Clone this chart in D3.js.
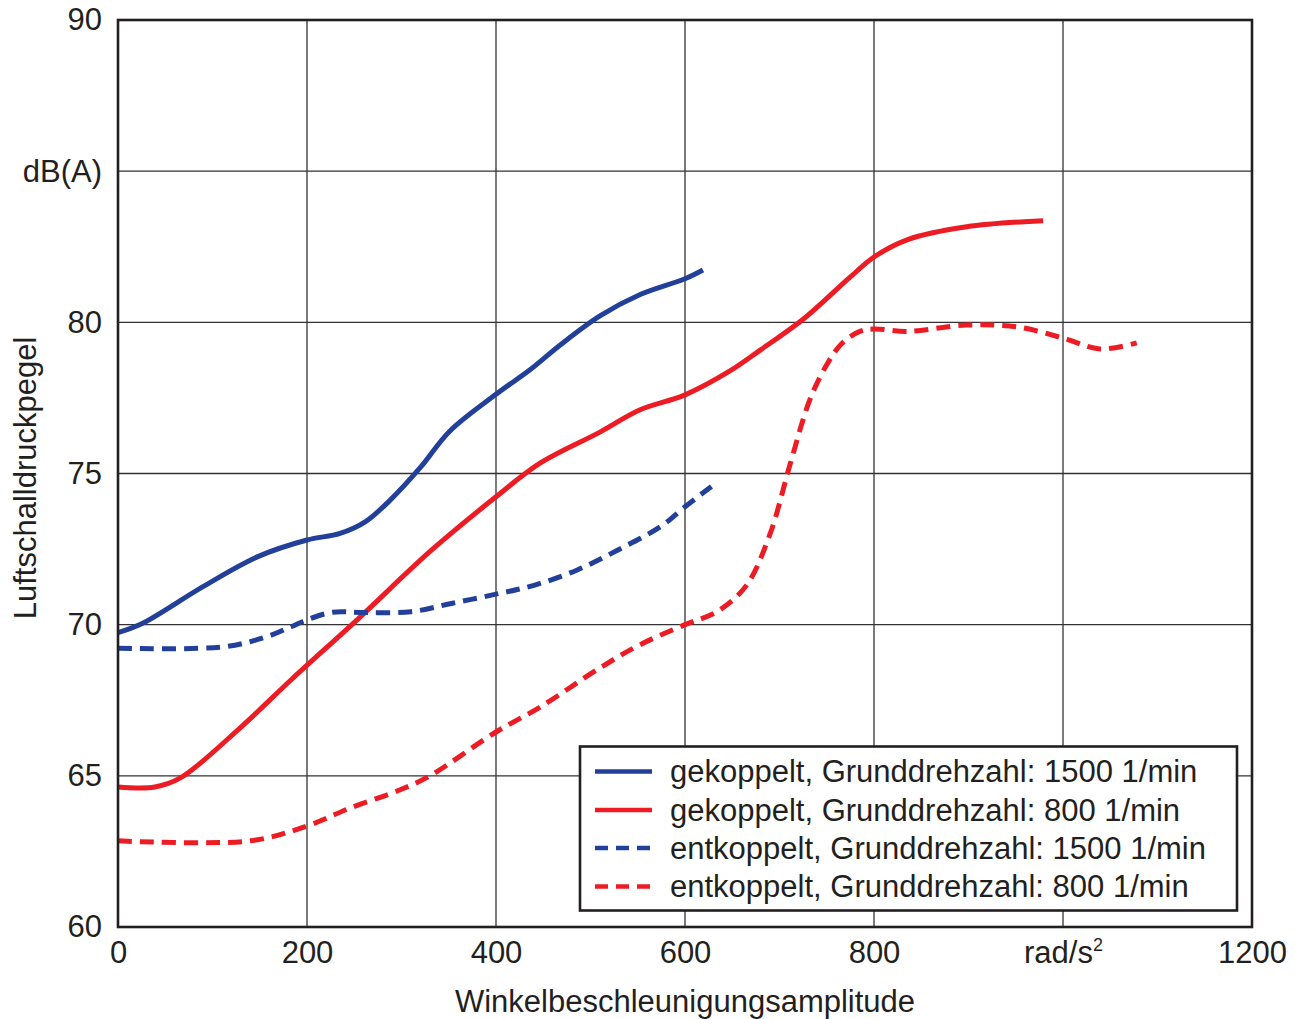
<!DOCTYPE html>
<html>
<head>
<meta charset="utf-8">
<script src="https://cdn.jsdelivr.net/npm/d3@7"></script>
<style>
  html, body { margin: 0; padding: 0; background: #fff; }
  svg { display: block; font-family: "Liberation Sans", Arial, sans-serif; }
</style>
</head>
<body>
<svg id="chart" width="1300" height="1019"></svg>
<script>
// Axis ticks and labels
const xTicks = [0, 200, 400, 600, 800, 1000, 1200];
const xTickLabels = ["0", "200", "400", "600", "800", "rad/s²", "1200"];
const yTicks = [60, 65, 70, 75, 80, 85, 90];
const yTickLabels = ["60", "65", "70", "75", "80", "dB(A)", "90"];

// Measured curves: [Winkelbeschleunigungsamplitude, Luftschalldruckpegel]
const gekoppelt1500 = [
  [0, 69.74], [25, 70.03], [90, 71.26], [148, 72.25], [200, 72.80], [235, 73.02],
  [262, 73.41], [288, 74.12], [320, 75.2], [351, 76.4], [400, 77.62], [436, 78.43],
  [468, 79.25], [510, 80.21], [552, 80.91], [600, 81.44], [619, 81.73]
];
const gekoppelt800 = [
  [0, 64.63], [39, 64.63], [66, 64.93], [129, 66.58], [183, 68.17], [253, 70.16],
  [332, 72.47], [400, 74.23], [447, 75.35], [510, 76.37], [552, 77.1], [600, 77.6],
  [648, 78.4], [680, 79.09], [725, 80.1], [775, 81.5], [800, 82.16], [835, 82.73],
  [898, 83.16], [979, 83.36]
];
const entkoppelt1500 = [
  [0, 69.22], [113, 69.27], [157, 69.6], [183, 69.93], [200, 70.16], [227, 70.41],
  [262, 70.40], [310, 70.43], [354, 70.71], [400, 71.01], [441, 71.31], [486, 71.81],
  [529, 72.47], [574, 73.24], [600, 73.9], [628, 74.57]
];
const entkoppelt800 = [
  [0, 62.85], [140, 62.85], [200, 63.34], [246, 63.94], [298, 64.53], [330, 65.0],
  [400, 66.45], [447, 67.28], [510, 68.57], [552, 69.33], [600, 70.0], [635, 70.45],
  [665, 71.3], [690, 73.0], [711, 75.28], [732, 77.43], [750, 78.6], [766, 79.3],
  [785, 79.7], [800, 79.78], [835, 79.7], [898, 79.91], [951, 79.85], [1000, 79.48],
  [1039, 79.12], [1078, 79.32]
];

const seriesNames = [
  "gekoppelt, Grunddrehzahl: 1500 1/min",
  "gekoppelt, Grunddrehzahl: 800 1/min",
  "entkoppelt, Grunddrehzahl: 1500 1/min",
  "entkoppelt, Grunddrehzahl: 800 1/min"
];

const BLUE = "#22409a";
const RED = "#ed1c24";
const TEXT = "#231f20";
const series = [
  { name: seriesNames[0], data: gekoppelt1500, color: BLUE, dash: null },
  { name: seriesNames[1], data: gekoppelt800, color: RED, dash: null },
  { name: seriesNames[2], data: entkoppelt1500, color: BLUE, dash: "14,8" },
  { name: seriesNames[3], data: entkoppelt800, color: RED, dash: "14,8" }
];

const svg = d3.select("#chart");
const plotLeft = 118, plotRight = 1252, plotTop = 20, plotBottom = 927;

const x = d3.scaleLinear().domain([0, 1200]).range([plotLeft, plotRight]);
const y = d3.scaleLinear().domain([60, 90]).range([plotBottom, plotTop]);

// Grid
const grid = svg.append("g");
grid.selectAll("line.vx").data(xTicks.slice(1, -1)).join("line")
  .attr("x1", d => x(d)).attr("x2", d => x(d))
  .attr("y1", plotTop).attr("y2", plotBottom)
  .attr("stroke", "#333").attr("stroke-width", 1.3);
grid.selectAll("line.hy").data(yTicks.slice(1, -1)).join("line")
  .attr("x1", plotLeft).attr("x2", plotRight)
  .attr("y1", d => y(d)).attr("y2", d => y(d))
  .attr("stroke", "#333").attr("stroke-width", 1.3);

// Axes (labels only, frame drawn separately)
const xAxis = d3.axisBottom(x).tickValues(xTicks)
  .tickFormat((d, i) => xTickLabels[i]).tickSize(0).tickPadding(14);
const gx = svg.append("g").attr("transform", `translate(0,${plotBottom})`).call(xAxis);
gx.select(".domain").remove();
gx.selectAll("text").attr("font-size", 31).attr("fill", TEXT)
  .attr("font-family", "Liberation Sans, Arial, sans-serif");

const yAxis = d3.axisLeft(y).tickValues(yTicks)
  .tickFormat((d, i) => yTickLabels[i]).tickSize(0).tickPadding(16);
const gy = svg.append("g").attr("transform", `translate(${plotLeft},0)`).call(yAxis);
gy.select(".domain").remove();
gy.selectAll("text").attr("font-size", 31).attr("fill", TEXT)
  .attr("font-family", "Liberation Sans, Arial, sans-serif");

// Superscript for rad/s²
gx.selectAll("text").filter((d, i) => xTickLabels[i] === "rad/s²")
  .text(null)
  .call(t => {
    t.append("tspan").text("rad/s");
    t.append("tspan").text("2").attr("font-size", 18).attr("dy", -12);
  });

// Curves
const line = d3.line()
  .x(d => x(d[0])).y(d => y(d[1]))
  .curve(d3.curveCatmullRom.alpha(0.5));

svg.append("g").selectAll("path").data(series).join("path")
  .attr("d", d => line(d.data))
  .attr("fill", "none")
  .attr("stroke", d => d.color)
  .attr("stroke-width", 5)
  .attr("stroke-dasharray", d => d.dash)
  .attr("stroke-linejoin", "round");

// Frame
svg.append("rect")
  .attr("x", plotLeft).attr("y", plotTop)
  .attr("width", plotRight - plotLeft).attr("height", plotBottom - plotTop)
  .attr("fill", "none").attr("stroke", TEXT).attr("stroke-width", 2.6);

// Legend
const lg = svg.append("g");
lg.append("rect")
  .attr("x", 580).attr("y", 746.5).attr("width", 657).attr("height", 164)
  .attr("fill", "#fff").attr("stroke", TEXT).attr("stroke-width", 2.6);
const rowY = [771.5, 810, 848, 886.5];
const items = lg.selectAll("g.item").data(series).join("g")
  .attr("transform", (d, i) => `translate(0,${rowY[i]})`);
items.append("line")
  .attr("x1", 595).attr("x2", 652).attr("y1", 0).attr("y2", 0)
  .attr("stroke", d => d.color).attr("stroke-width", 4.5)
  .attr("stroke-dasharray", d => d.dash ? "13,8" : null);
items.append("text")
  .attr("x", 670).attr("y", 0).attr("dy", "0.35em")
  .attr("font-size", 31).attr("fill", TEXT)
  .text(d => d.name);

// Axis titles
svg.append("text")
  .attr("x", 685).attr("y", 1012)
  .attr("text-anchor", "middle").attr("font-size", 31).attr("fill", TEXT)
  .text("Winkelbeschleunigungsamplitude");
svg.append("text")
  .attr("transform", "translate(36,478) rotate(-90)")
  .attr("text-anchor", "middle").attr("font-size", 31).attr("fill", TEXT)
  .text("Luftschalldruckpegel");
</script>
</body>
</html>
